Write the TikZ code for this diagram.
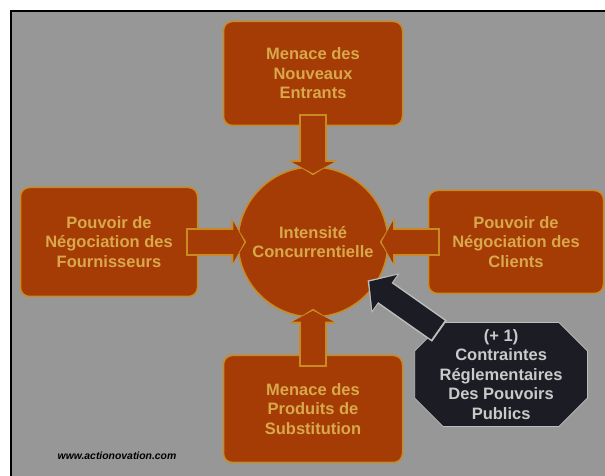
\documentclass[tikz,border=0pt]{standalone}
\usepackage{fontspec}
\setmainfont{Liberation Sans}
\usepackage{tikz}
\usetikzlibrary{arrows.meta, positioning, shapes.misc}
\definecolor{panelgray}{HTML}{979797}
\definecolor{rust}{HTML}{A53C06}
\definecolor{gold}{HTML}{C98A22}
\definecolor{sand}{HTML}{D9A84A}
\definecolor{ink}{HTML}{1C1D24}
\definecolor{mist}{HTML}{BDBDBD}
\definecolor{pale}{HTML}{CACACA}
\tikzstyle{force}=[rectangle, rounded corners=9pt, draw=gold, fill=rust, line width=1.5pt, text=sand, align=center, font=\fontsize{16.5}{19.5}\selectfont\bfseries, minimum width=179pt, minimum height=104pt]
\tikzstyle{rivalry}=[circle, draw=gold, fill=rust, line width=1.5pt, text=sand, align=center, font=\fontsize{16.5}{19.5}\selectfont\bfseries, minimum size=150pt]
\tikzstyle{push}=[draw=rust, line width=24pt, shorten <=-10pt, shorten >=-7pt, -{Triangle[width=41pt,length=11pt]}, preaction={draw=gold, line width=28pt, shorten <=-12pt, shorten >=-9pt, -{Triangle[width=47pt,length=15pt]}}]
\tikzstyle{octa}=[chamfered rectangle, chamfered rectangle xsep=25pt, inner xsep=0pt, draw=mist, fill=ink, line width=0.8pt, text=pale, align=center, font=\fontsize{16.5}{19.5}\selectfont\bfseries, minimum width=168pt, minimum height=104pt]
\tikzstyle{decree}=[draw=ink, line width=23pt, shorten <=-2pt, shorten >=-7pt, -{Triangle[width=42pt,length=19pt]}, preaction={draw=mist, line width=26pt, shorten <=-4pt, shorten >=-9pt, -{Triangle[width=47pt,length=22pt]}}]

\begin{document}
\begin{tikzpicture}[x=1pt, y=1pt]
  \useasboundingbox (0,0) rectangle (605,476);
  % grey panel, framed on two sides
  \fill[panelgray] (11,0) rectangle (605,465);
  \draw[line width=2.5pt] (11,0) -- (11,465) -- (605,465);

  \node[rivalry] (ct) at (313,234) {Intensité\\Concurrentielle};
  \node[force] (top) [above=40pt of ct] {Menace des\\Nouveaux\\Entrants}
    edge [push] (ct);
  \node[force] (left) [left=39pt of ct, minimum width=177pt, minimum height=109pt] {Pouvoir de\\Négociation des\\Fournisseurs}
    edge [push] (ct);
  \node[force] (right) [right=39pt of ct, minimum width=175pt, minimum height=103pt] {Pouvoir de\\Négociation des\\Clients}
    edge [push] (ct);
  \node[force] (bottom) [below=37pt of ct, minimum height=107pt] {Menace des\\Produits de\\Substitution}
    edge [push] (ct);
  \node[octa] (reg) [right=11pt of bottom, yshift=34.5pt] {(+ 1)\\Contraintes\\Réglementaires\\Des Pouvoirs\\Publics}
    edge [decree] (ct);

  \node[font=\fontsize{10.4}{11}\selectfont\bfseries\itshape] (url) at (117,20) {www.actionovation.com};
\end{tikzpicture}
\end{document}
